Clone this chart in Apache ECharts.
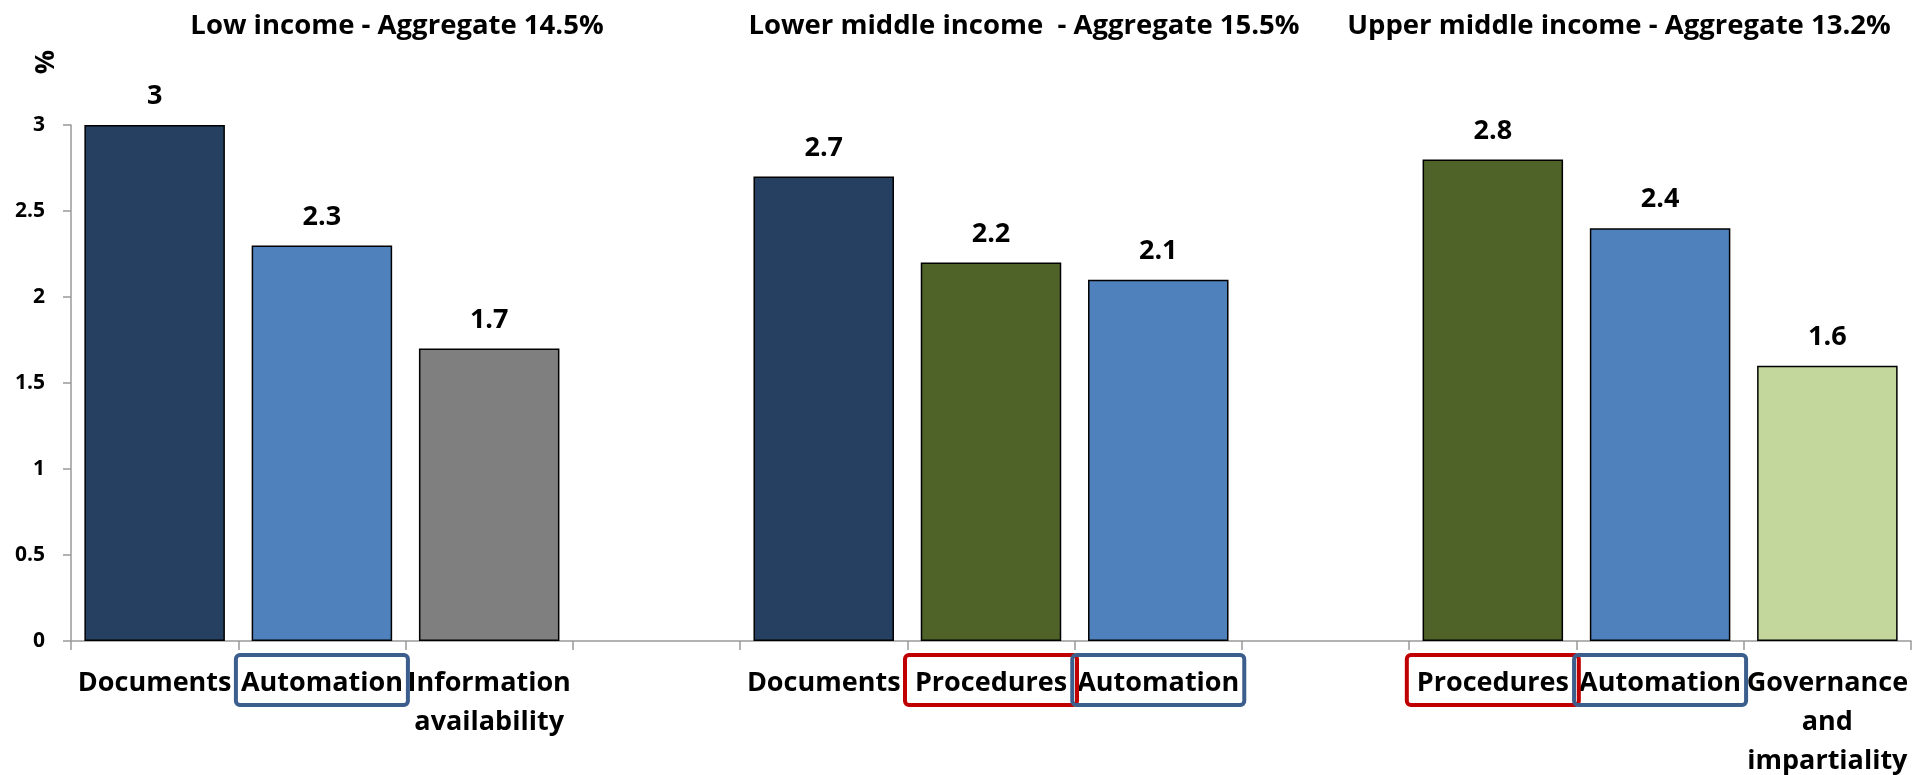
<!DOCTYPE html>
<html>
<head>
<meta charset="utf-8">
<script src="https://cdn.jsdelivr.net/npm/echarts@6/dist/echarts.min.js"></script>
<style>
  html, body { margin: 0; padding: 0; background: #fff; }
  #chart { width: 1915px; height: 775px; }
</style>
</head>
<body>
<div id="chart"></div>
<script>
// categories: 3 income groups, an empty slot between groups
const categories = [
  "Documents", "Automation", "Information\navailability", "",
  "Documents", "Procedures", "Automation", "",
  "Procedures", "Automation", "Governance\nand\nimpartiality",
];
const values = [3, 2.3, 1.7, "-", 2.7, 2.2, 2.1, "-", 2.8, 2.4, 1.6];
const barColors = [
  "#254061", "#4F81BD", "#7F7F7F", null,
  "#254061", "#4F6228", "#4F81BD", null,
  "#4F6228", "#4F81BD", "#C3D69B",
];
const groupTitles = [
  "Low income - Aggregate 14.5%",
  "Lower middle income  - Aggregate 15.5%",
  "Upper middle income - Aggregate 13.2%",
];
// which category labels get a frame, and its colour
const boxedLabels = [
  { index: 1, color: "#3B5E8C" },
  { index: 5, color: "#C00000" },
  { index: 6, color: "#3B5E8C" },
  { index: 8, color: "#C00000" },
  { index: 9, color: "#3B5E8C" },
];

const font = "'Open Sans', 'DejaVu Sans', sans-serif";
const titleCenters = [392, 1019, 1614];

const chart = echarts.init(document.getElementById("chart"));

const options = {
  animation: false,
  title: groupTitles.map((t, i) => ({
    text: t,
    left: titleCenters[i],
    top: 7,
    textAlign: "center",
    textStyle: { fontFamily: font, fontSize: 27.5, fontWeight: "bold", color: "#000" },
  })),
  grid: { left: 71, right: 4, top: 125, bottom: 134, outerBoundsMode: "none" },
  xAxis: {
    type: "category",
    data: categories,
    axisLine: { lineStyle: { color: "#999", width: 1.5 } },
    axisTick: { show: true, length: 9, lineStyle: { color: "#999", width: 1.5 } },
    axisLabel: {
      interval: 0,
      margin: 23,
      color: "#000",
      fontFamily: font,
      fontSize: 27,
      fontWeight: "bold",
      lineHeight: 39,
    },
  },
  yAxis: {
    type: "value",
    min: 0,
    max: 3,
    interval: 0.5,
    splitLine: { show: false },
    axisLine: { show: true, lineStyle: { color: "#999", width: 1.5 } },
    axisTick: { show: true, length: 8, lineStyle: { color: "#999", width: 1.5 } },
    axisLabel: {
      margin: 26,
      color: "#000",
      fontFamily: font,
      fontSize: 21,
      fontWeight: "bold",
    },
  },
  series: [
    {
      type: "bar",
      barWidth: "84%",
      data: values.map((v, i) => ({
        value: v,
        itemStyle: { color: barColors[i] || "#fff" },
      })),
      itemStyle: { borderColor: "#000", borderWidth: 1.5 },
      label: {
        show: true,
        position: "top",
        distance: 15,
        color: "#000",
        fontFamily: font,
        fontSize: 27,
        fontWeight: "bold",
      },
    },
  ],
  graphic: [
    {
      type: "text",
      x: 46,
      y: 62,
      rotation: Math.PI / 2,
      style: {
        text: "%",
        fontFamily: font,
        fontSize: 27,
        fontWeight: "bold",
        fill: "#000",
        align: "center",
        verticalAlign: "middle",
      },
    },
  ],
};

chart.setOption(options);

// frames around some category labels, placed from the category axis
const boxes = boxedLabels.map((b) => {
  const cx = chart.convertToPixel({ xAxisIndex: 0 }, b.index);
  return {
    type: "rect",
    shape: { x: cx - 86, y: 655, width: 172, height: 50, r: 4 },
    style: { fill: "none", stroke: b.color, lineWidth: 4 },
    z: 10,
  };
});
chart.setOption({ graphic: options.graphic.concat(boxes) });
</script>
</body>
</html>
